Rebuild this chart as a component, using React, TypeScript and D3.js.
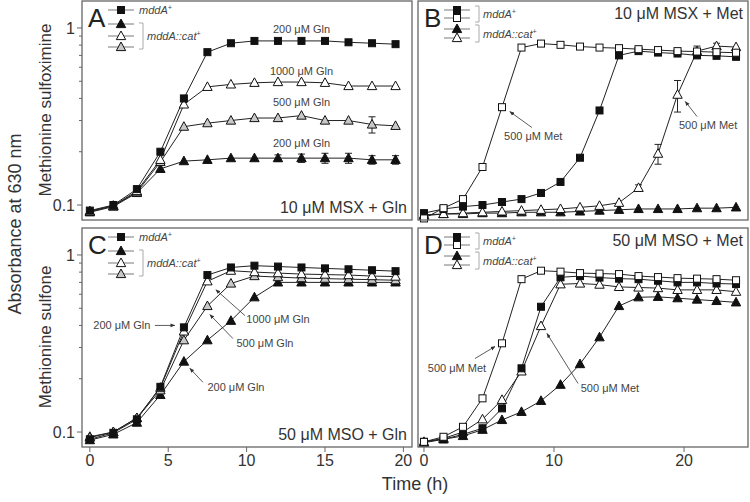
import React from "react";
import * as d3 from "d3";

const FONT = "'Liberation Sans', Arial, Helvetica, sans-serif";

// sampling times (h)
const timesGln = [0, 1.5, 3, 4.5, 6, 7.5, 9, 10.5, 12, 13.5, 15, 16.5, 18, 19.5];
const timesMet = [0, 1.5, 3, 4.5, 6, 7.5, 9, 10.5, 12, 13.5, 15, 16.5, 18, 19.5, 21, 22.5, 24];

// A: 10 uM MSX + Gln
const aWt200 = [0.093, 0.1, 0.123, 0.2, 0.4, 0.73, 0.82, 0.845, 0.845, 0.845, 0.845, 0.83, 0.82, 0.81];
const aCat1000 = [0.092, 0.099, 0.12, 0.18, 0.37, 0.465, 0.48, 0.49, 0.495, 0.495, 0.49, 0.47, 0.47, 0.47];
const aCat500 = [0.092, 0.099, 0.118, 0.175, 0.277, 0.29, 0.3, 0.31, 0.31, 0.32, 0.3, 0.3, 0.285, 0.28];
const aCat500Err = [0, 0, 0, 0, 0, 0, 0, 0, 0, 0, 0, 0, 0.03, 0];
const aCat200 = [0.091, 0.098, 0.117, 0.16, 0.177, 0.18, 0.184, 0.184, 0.184, 0.184, 0.184, 0.184, 0.18, 0.18];
const aCat200Err = [0, 0, 0, 0, 0, 0, 0, 0, 0.008, 0.01, 0.012, 0.012, 0.01, 0.01];

// B: 10 uM MSX + Met
const bWtMet = [0.084, 0.096, 0.108, 0.164, 0.357, 0.775, 0.816, 0.803, 0.785, 0.775, 0.769, 0.759, 0.75, 0.74, 0.736, 0.73, 0.725];
const bWt = [0.09, 0.095, 0.098, 0.1, 0.104, 0.108, 0.117, 0.135, 0.185, 0.342, 0.7, 0.74, 0.726, 0.717, 0.7, 0.696, 0.687];
const bCat = [0.087, 0.089, 0.089, 0.09, 0.09, 0.091, 0.091, 0.091, 0.092, 0.093, 0.094, 0.095, 0.095, 0.095, 0.096, 0.096, 0.097];
const bCatMet = [0.088, 0.089, 0.09, 0.091, 0.092, 0.093, 0.094, 0.095, 0.097, 0.099, 0.103, 0.125, 0.195, 0.42, 0.74, 0.79, 0.78];
const bCatMetErr = [0, 0, 0, 0, 0, 0, 0, 0, 0, 0, 0, 0.005, 0.025, 0.085, 0.05, 0.03, 0];

// C: 50 uM MSO + Gln
const cWt200 = [0.091, 0.099, 0.118, 0.18, 0.39, 0.77, 0.85, 0.87, 0.86, 0.85, 0.84, 0.83, 0.82, 0.81];
const cCat1000 = [0.093, 0.1, 0.12, 0.178, 0.37, 0.71, 0.815, 0.8, 0.79, 0.78, 0.775, 0.77, 0.76, 0.755];
const cCat500 = [0.094, 0.1, 0.12, 0.172, 0.33, 0.515, 0.69, 0.76, 0.75, 0.74, 0.735, 0.73, 0.725, 0.72];
const cCat200 = [0.09, 0.097, 0.113, 0.162, 0.25, 0.33, 0.425, 0.577, 0.7, 0.7, 0.7, 0.7, 0.7, 0.7];

// D: 50 uM MSO + Met
const dWtMet = [0.088, 0.094, 0.107, 0.155, 0.317, 0.73, 0.815, 0.805, 0.79, 0.785, 0.78, 0.76, 0.75, 0.74, 0.735, 0.73, 0.72];
const dWt = [0.088, 0.091, 0.097, 0.105, 0.136, 0.229, 0.51, 0.748, 0.76, 0.745, 0.735, 0.73, 0.715, 0.7, 0.7, 0.69, 0.685];
const dCatMet = [0.088, 0.092, 0.1, 0.118, 0.152, 0.22, 0.397, 0.683, 0.69, 0.68, 0.66, 0.655, 0.65, 0.635, 0.635, 0.635, 0.62];
const dCat = [0.087, 0.091, 0.095, 0.103, 0.117, 0.13, 0.15, 0.185, 0.242, 0.343, 0.515, 0.577, 0.58, 0.57, 0.56, 0.55, 0.54];

const yTickMajor = [0.1, 1];
const yTickMinor = [0.2, 0.3, 0.4, 0.5, 0.6, 0.7, 0.8, 0.9];
const xTicksGln = [0, 5, 10, 15, 20];
const xTicksMet = [0, 10, 20];

type Shape = "square" | "triangle";
type Series = { t: number[]; v: number[]; err?: number[]; shape: Shape; fill: string };
type Note = { text: string; at: [number, number]; from?: [number, number]; to?: [number, number] };

const BLACK = "#111";
const GRAY = "#c8c8c8";

const panels = [
  {
    letter: "A", col: 0, row: 0, cond: "10 μM MSX + Gln", condTop: false, legend: "gln", xTicks: null,
    series: [
      { t: timesGln, v: aCat200, err: aCat200Err, shape: "triangle", fill: BLACK },
      { t: timesGln, v: aCat500, err: aCat500Err, shape: "triangle", fill: GRAY },
      { t: timesGln, v: aCat1000, shape: "triangle", fill: "#fff" },
      { t: timesGln, v: aWt200, shape: "square", fill: BLACK },
    ],
    notes: [
      { text: "200 μM Gln", at: [13.5, 0.98] },
      { text: "1000 μM Gln", at: [13.5, 0.573] },
      { text: "500 μM Gln", at: [13.5, 0.379] },
      { text: "200 μM Gln", at: [13.5, 0.223] },
    ],
  },
  {
    letter: "B", col: 1, row: 0, cond: "10 μM MSX + Met", condTop: true, legend: "met", xTicks: null,
    series: [
      { t: timesMet, v: bCat, shape: "triangle", fill: BLACK },
      { t: timesMet, v: bCatMet, err: bCatMetErr, shape: "triangle", fill: "#fff" },
      { t: timesMet, v: bWt, shape: "square", fill: BLACK },
      { t: timesMet, v: bWtMet, shape: "square", fill: "#fff" },
    ],
    notes: [
      { text: "500 μM Met", at: [8.4, 0.244], from: [8.3, 0.274], to: [6.6, 0.337] },
      { text: "500 μM Met", at: [21.85, 0.281], from: [21.0, 0.316], to: [20.1, 0.384] },
    ],
  },
  {
    letter: "C", col: 0, row: 1, cond: "50 μM MSO + Gln", condTop: false, legend: "gln", xTicks: xTicksGln,
    series: [
      { t: timesGln, v: cCat200, shape: "triangle", fill: BLACK },
      { t: timesGln, v: cCat500, shape: "triangle", fill: GRAY },
      { t: timesGln, v: cCat1000, shape: "triangle", fill: "#fff" },
      { t: timesGln, v: cWt200, shape: "square", fill: BLACK },
    ],
    notes: [
      { text: "200 μM Gln", at: [2.04, 0.4], from: [4.15, 0.4], to: [5.42, 0.4] },
      { text: "1000 μM Gln", at: [12.0, 0.432], from: [9.9, 0.454], to: [8.04, 0.636] },
      { text: "500 μM Gln", at: [11.17, 0.316], from: [9.13, 0.337], to: [7.66, 0.46] },
      { text: "200 μM Gln", at: [9.32, 0.179], from: [7.21, 0.191], to: [6.38, 0.229] },
    ],
  },
  {
    letter: "D", col: 1, row: 1, cond: "50 μM MSO + Met", condTop: true, legend: "met", xTicks: xTicksMet,
    series: [
      { t: timesMet, v: dCat, shape: "triangle", fill: BLACK },
      { t: timesMet, v: dCatMet, shape: "triangle", fill: "#fff" },
      { t: timesMet, v: dWt, shape: "square", fill: BLACK },
      { t: timesMet, v: dWtMet, shape: "square", fill: "#fff" },
    ],
    notes: [
      { text: "500 μM Met", at: [2.54, 0.229], from: [3.92, 0.26], to: [5.46, 0.304] },
      { text: "500 μM Met", at: [14.3, 0.177], from: [11.85, 0.188], to: [9.46, 0.36] },
    ],
  },
];

const colX = [[82, 412], [418, 748]];
const rowY = [[1, 220], [228, 447]];
const xDomains = [[-0.5, 20.55], [-0.46, 24.92]];
const yDomain = [0.0823, 1.42];

function Mark({ cx, cy, shape, fill }: { cx: number; cy: number; shape: Shape; fill: string }) {
  if (shape === "square")
    return <rect x={cx - 3.5} y={cy - 3.5} width={7} height={7} fill={fill} stroke={BLACK} strokeWidth={1} />;
  return (
    <path
      d={`M${cx},${cy - 5}L${cx + 4.7},${cy + 3.6}L${cx - 4.7},${cy + 3.6}Z`}
      fill={fill}
      stroke={BLACK}
      strokeWidth={1}
    />
  );
}

function Genotype({ x, y, name }: { x: number; y: number; name: string }) {
  return (
    <text x={x} y={y} dy="0.35em" fontSize={11} fontStyle="italic" fill="#444" fontFamily={FONT}>
      {name}
      <tspan fontSize={7} dy="-4">+</tspan>
    </text>
  );
}

function Legend({ x0, y0, kind }: { x0: number; y0: number; kind: string }) {
  const lx1 = x0 + 26, lx2 = x0 + 52, mx = x0 + 39;
  const rows: { dy: number; shape: Shape; fill: string }[] =
    kind === "gln"
      ? [
          { dy: 9, shape: "square", fill: BLACK },
          { dy: 23, shape: "triangle", fill: BLACK },
          { dy: 35, shape: "triangle", fill: "#fff" },
          { dy: 46, shape: "triangle", fill: GRAY },
        ]
      : [
          { dy: 9, shape: "square", fill: BLACK },
          { dy: 17, shape: "square", fill: "#fff" },
          { dy: 28, shape: "triangle", fill: BLACK },
          { dy: 37, shape: "triangle", fill: "#fff" },
        ];
  const brackets =
    kind === "gln"
      ? [{ y1: 22, y2: 48, ty: 35, name: "mddA::cat", bx: x0 + 61 }]
      : [
          { y1: 5, y2: 21, ty: 13, name: "mddA", bx: x0 + 61 },
          { y1: 24, y2: 41, ty: 33, name: "mddA::cat", bx: x0 + 61 },
        ];
  return (
    <g>
      {rows.map((r, i) => (
        <g key={i}>
          <line x1={lx1} x2={lx2} y1={y0 + r.dy} y2={y0 + r.dy} stroke="#555" strokeWidth={0.8} />
          <Mark cx={mx} cy={y0 + r.dy} shape={r.shape} fill={r.fill} />
        </g>
      ))}
      {kind === "gln" && <Genotype x={x0 + 57} y={y0 + 9} name="mddA" />}
      {brackets.map((b, i) => (
        <g key={i}>
          <path
            d={`M${b.bx - 4},${y0 + b.y1}H${b.bx}V${y0 + b.y2}H${b.bx - 4}`}
            fill="none"
            stroke="#aaa"
            strokeWidth={1}
          />
          <Genotype x={b.bx + 4} y={y0 + b.ty} name={b.name} />
        </g>
      ))}
    </g>
  );
}

function Panel({ p }: { p: (typeof panels)[number] }) {
  const [x0, x1] = colX[p.col];
  const [y0, y1] = rowY[p.row];
  const x = d3.scaleLinear().domain(xDomains[p.col]).range([x0, x1]);
  const y = d3.scaleLog().domain(yDomain).range([y1, y0]);
  const line = d3
    .line<[number, number]>()
    .x((d) => x(d[0]))
    .y((d) => y(d[1]));

  return (
    <g>
      {p.series.map((s: any, i: number) => (
        <path
          key={"l" + i}
          d={line(s.t.map((t: number, j: number) => [t, s.v[j]])) || ""}
          fill="none"
          stroke="#222"
          strokeWidth={1}
        />
      ))}
      {p.series.map((s: any, i: number) =>
        (s.err || []).map((e: number, j: number) =>
          e > 0 ? (
            <g key={`e${i}-${j}`} stroke="#222" strokeWidth={1}>
              <line x1={x(s.t[j])} x2={x(s.t[j])} y1={y(s.v[j] - e)} y2={y(s.v[j] + e)} />
              <line x1={x(s.t[j]) - 3.5} x2={x(s.t[j]) + 3.5} y1={y(s.v[j] - e)} y2={y(s.v[j] - e)} />
              <line x1={x(s.t[j]) - 3.5} x2={x(s.t[j]) + 3.5} y1={y(s.v[j] + e)} y2={y(s.v[j] + e)} />
            </g>
          ) : null
        )
      )}
      {p.series.map((s: any, i: number) =>
        s.t.map((t: number, j: number) => (
          <Mark key={`m${i}-${j}`} cx={x(t)} cy={y(s.v[j])} shape={s.shape} fill={s.fill} />
        ))
      )}

      {p.notes.map((n: Note, i: number) => (
        <g key={"n" + i}>
          {n.from && n.to && (
            <line
              x1={x(n.from[0])}
              y1={y(n.from[1])}
              x2={x(n.to[0])}
              y2={y(n.to[1])}
              stroke="#333"
              strokeWidth={0.8}
              markerEnd="url(#arrow)"
            />
          )}
          <text
            x={x(n.at[0])}
            y={y(n.at[1])}
            dy="0.35em"
            textAnchor="middle"
            fontSize={11}
            fill="#444"
            fontFamily={FONT}
          >
            {n.text}
          </text>
        </g>
      ))}

      <rect x={x0} y={y0} width={x1 - x0} height={y1 - y0} fill="none" stroke="#666" strokeWidth={1.3} />

      <text x={x0 + 6} y={y0 + 26} fontSize={26} fill="#222" fontFamily={FONT}>
        {p.letter}
      </text>
      <Legend x0={x0} y0={y0} kind={p.legend} />
      <text
        x={x1 - 5}
        y={p.condTop ? y0 + 12 : y1 - 13}
        dy="0.35em"
        textAnchor="end"
        fontSize={16}
        fill="#333"
        fontFamily={FONT}
      >
        {p.cond}
      </text>

      {p.col === 0 && (
        <g>
          {yTickMajor.map((v) => (
            <g key={"ym" + v}>
              <line x1={x0 - 5} x2={x0} y1={y(v)} y2={y(v)} stroke="#666" strokeWidth={1} />
              <text
                x={x0 - 7}
                y={y(v)}
                dy="0.35em"
                textAnchor="end"
                fontSize={16}
                fill="#333"
                fontFamily={FONT}
              >
                {v}
              </text>
            </g>
          ))}
          {yTickMinor.map((v) => (
            <line key={"yn" + v} x1={x0 - 3} x2={x0} y1={y(v)} y2={y(v)} stroke="#666" strokeWidth={1} />
          ))}
        </g>
      )}

      {p.xTicks &&
        p.xTicks.map((t: number) => (
          <g key={"xt" + t}>
            <line x1={x(t)} x2={x(t)} y1={y1} y2={y1 + 5} stroke="#666" strokeWidth={1} />
            <text x={x(t)} y={y1 + 19} textAnchor="middle" fontSize={16} fill="#333" fontFamily={FONT}>
              {t}
            </text>
          </g>
        ))}
    </g>
  );
}

export default function App() {
  return (
    <svg width={750} height={502} style={{ position: "absolute", left: 0, top: 0, background: "#fff" }}>
      <defs>
        <marker id="arrow" viewBox="0 0 10 10" refX="9" refY="5" markerWidth="6" markerHeight="6" orient="auto">
          <path d="M0,1L10,5L0,9Z" fill="#333" />
        </marker>
      </defs>
      <rect width={750} height={502} fill="#fff" />
      {panels.map((p) => (
        <Panel key={p.letter} p={p} />
      ))}
      <text
        transform="translate(15,224) rotate(-90)"
        textAnchor="middle"
        dy="0.35em"
        fontSize={18}
        fill="#333"
        fontFamily={FONT}
      >
        Absorbance at 630 nm
      </text>
      <text
        transform="translate(45,110) rotate(-90)"
        textAnchor="middle"
        dy="0.35em"
        fontSize={17}
        fill="#333"
        fontFamily={FONT}
      >
        Methionine sulfoximine
      </text>
      <text
        transform="translate(45,337) rotate(-90)"
        textAnchor="middle"
        dy="0.35em"
        fontSize={17}
        fill="#333"
        fontFamily={FONT}
      >
        Methionine sulfone
      </text>
      <text x={415} y={490} textAnchor="middle" fontSize={18} fill="#333" fontFamily={FONT}>
        Time (h)
      </text>
    </svg>
  );
}
